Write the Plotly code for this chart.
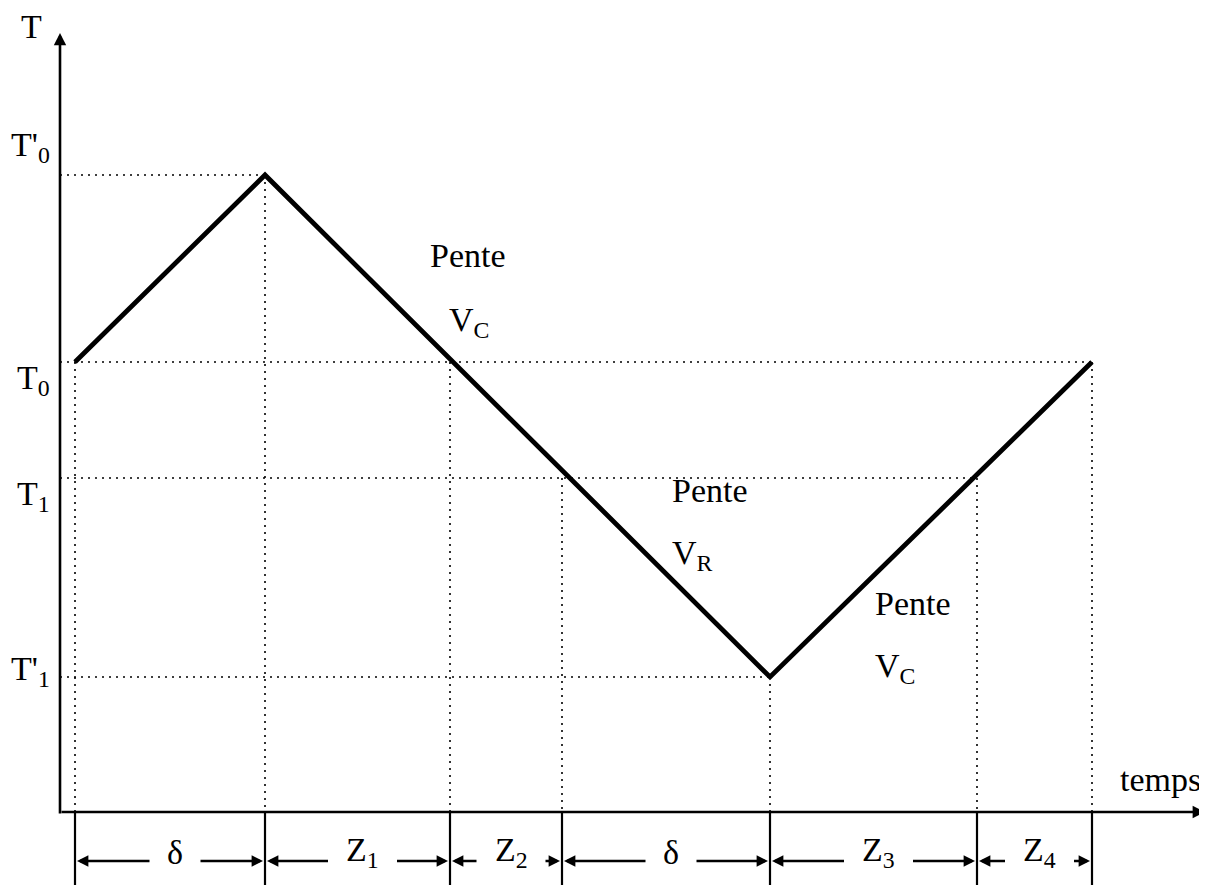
import plotly.graph_objects as go

# time marks along the axis (arbitrary units)
times = [0, 19.0, 37.5, 48.7, 69.5, 90.2, 101.7]
interval_labels = ["δ", "Z<sub>1</sub>", "Z<sub>2</sub>", "δ", "Z<sub>3</sub>", "Z<sub>4</sub>"]

# temperature levels
level_names = ["T'<sub>0</sub>", "T<sub>0</sub>", "T<sub>1</sub>", "T'<sub>1</sub>"]
level_values = [63.7, 45.0, 33.4, 13.5]
T0p, T0, T1, T1p = level_values

# triangle profile: start, peak, valley, end
curve_t = [times[0], times[1], times[4], times[6]]
curve_T = [T0, T0p, T1p, T0]

# how far each horizontal guide runs (index in times)
level_ends = [1, 6, 5, 4]
# level reached at each time mark (for the vertical guides)
mark_levels = [T0, T0p, T0, T1, T1p, T1, T0]

slope_labels = ["Pente", "V<sub>C</sub>", "Pente", "V<sub>R</sub>", "Pente", "V<sub>C</sub>"]

FONT = "Liberation Serif"
SIZE = 34
axis_x = -1.5
x_end = 113.0
y_top = 77.9

fig = go.Figure()
ann = []


def arrow(x0, y0, x1, y1, width=2.4):
    # filled arrow from (x0, y0) to its head at (x1, y1)
    ann.append(dict(x=x1, y=y1, ax=x0, ay=y0, xref="x", yref="y",
                    axref="x", ayref="y", text="", showarrow=True,
                    arrowhead=2, arrowsize=0.95, arrowwidth=width,
                    arrowcolor="black"))


# dotted guides
hx, hy = [], []
for val, end in zip(level_values, level_ends):
    hx += [axis_x, times[end], None]
    hy += [val, val, None]
for t, lv in zip(times, mark_levels):
    hx += [t, t, None]
    hy += [lv, 0, None]
fig.add_trace(go.Scatter(x=hx, y=hy, mode="lines",
                         line=dict(color="black", width=1.6, dash="2px,5px"),
                         hoverinfo="skip"))

# solid ticks below the time axis
tx, ty = [], []
for t in times:
    tx += [t, t, None]
    ty += [0, -7.3, None]
fig.add_trace(go.Scatter(x=tx, y=ty, mode="lines",
                         line=dict(color="black", width=2.2), hoverinfo="skip"))

# temperature profile
fig.add_trace(go.Scatter(x=curve_t, y=curve_T, mode="lines",
                         line=dict(color="black", width=4.8), hoverinfo="skip"))

# axes with arrows
arrow(axis_x, -0.3, axis_x, y_top, width=2.6)
arrow(axis_x, 0, x_end, 0, width=2.6)

# axis titles
ann.append(dict(x=-4.4, y=78.6, text="T", xref="x", yref="y", showarrow=False,
                font=dict(family=FONT, size=SIZE, color="black")))
ann.append(dict(x=108.5, y=3.3, text="temps", xref="x", yref="y", showarrow=False,
                font=dict(family=FONT, size=SIZE, color="black")))

# level labels on the T axis
level_offsets = [2.8, -1.8, -1.8, 0.6]
for name, val, off in zip(level_names, level_values, level_offsets):
    ann.append(dict(x=-2.3, y=val + off, text=name, xref="x", yref="y",
                    xanchor="right", yanchor="middle", showarrow=False,
                    font=dict(family=FONT, size=SIZE, color="black")))

# slope labels
slope_pos = [(35.3, 55.7), (37.2, 49.0), (59.5, 32.2), (59.5, 25.7),
             (79.8, 20.9), (79.8, 14.4)]
for txt, (px, py) in zip(slope_labels, slope_pos):
    ann.append(dict(x=px, y=py, text=txt, xref="x", yref="y", xanchor="left",
                    yanchor="middle", showarrow=False,
                    font=dict(family=FONT, size=SIZE, color="black")))

# interval dimension arrows
arrow_y = -4.9
for i, lab in enumerate(interval_labels):
    a, b = times[i], times[i + 1]
    c = (a + b) / 2 + 0.5
    half = 0.9 if lab == "δ" else 1.8
    gap = 1.5
    ann.append(dict(x=c, y=arrow_y + 0.9, text=lab, xref="x", yref="y",
                    showarrow=False,
                    font=dict(family=FONT, size=SIZE, color="black")))
    arrow(c - half - gap, arrow_y, a + 0.2, arrow_y)
    arrow(c + half + gap, arrow_y, b - 0.2, arrow_y)

# the page adds an 8px body margin, so the figure is 16px smaller
fig.update_layout(
    width=1199, height=883,
    margin=dict(l=0, r=0, t=0, b=0),
    paper_bgcolor="white", plot_bgcolor="white",
    showlegend=False,
    xaxis=dict(range=[-6.7, 113.2], visible=False, fixedrange=True),
    yaxis=dict(range=[-7.9, 80.4], visible=False, fixedrange=True),
    annotations=ann,
)

fig.write_html("out.html")
